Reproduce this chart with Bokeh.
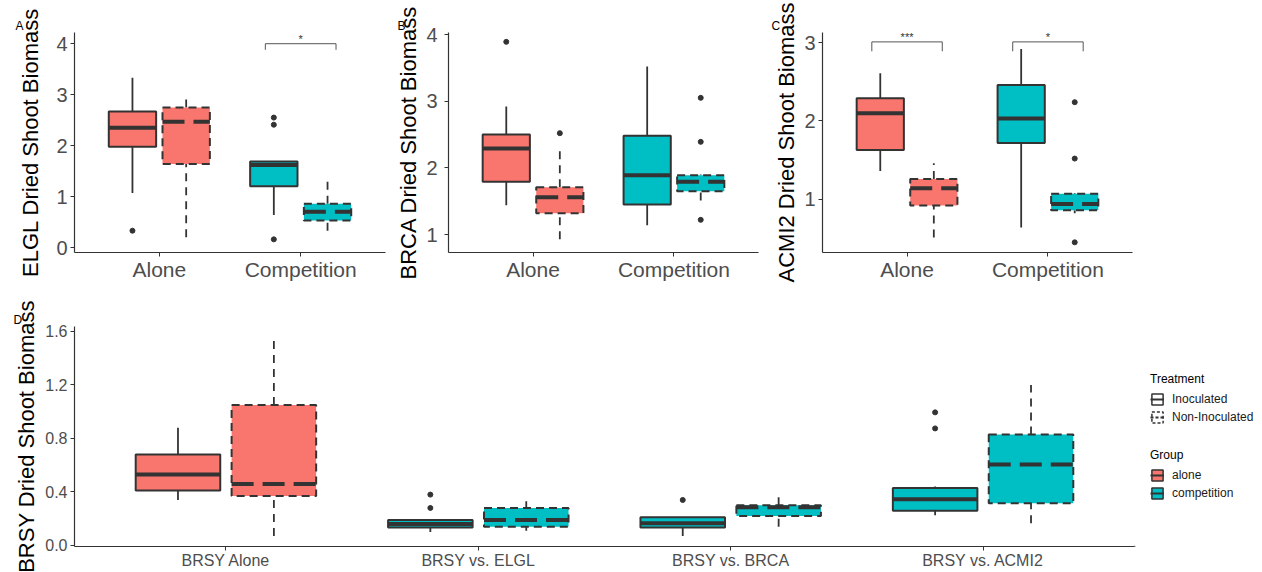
from bokeh.plotting import figure
from bokeh.models import (FactorRange, Range1d, ColumnDataSource, FixedTicker,
                          PrintfTickFormatter, Legend, LegendItem)
from bokeh.transform import dodge
from bokeh.layouts import row, column
from bokeh.embed import file_html
from bokeh.resources import INLINE
from bokeh.core.properties import value

FONT = "Liberation Sans"
ALONE = "#F8766D"
COMP = "#00BFC4"
LINE = "#333333"

# ---------------- Panel A : ELGL ----------------
a_cats = ["Alone", "Competition"]
a_colors = [ALONE, COMP]
a_inoc_low = [1.07, 0.64]
a_inoc_q1 = [1.98, 1.20]
a_inoc_med = [2.35, 1.62]
a_inoc_q3 = [2.67, 1.69]
a_inoc_high = [3.33, 1.69]
a_inoc_out = [[0.33], [2.55, 2.41, 0.16]]
a_non_low = [0.20, 0.33]
a_non_q1 = [1.64, 0.53]
a_non_med = [2.47, 0.70]
a_non_q3 = [2.75, 0.86]
a_non_high = [2.92, 1.31]
a_non_out = [[], []]
a_sig_cat = ["Competition"]
a_sig_y = [4.0]
a_sig_label = ["*"]

# ---------------- Panel B : BRCA ----------------
b_cats = ["Alone", "Competition"]
b_colors = [ALONE, COMP]
b_inoc_low = [1.44, 1.14]
b_inoc_q1 = [1.79, 1.45]
b_inoc_med = [2.29, 1.89]
b_inoc_q3 = [2.50, 2.48]
b_inoc_high = [2.92, 3.52]
b_inoc_out = [[3.89], []]
b_non_low = [0.93, 1.51]
b_non_q1 = [1.32, 1.65]
b_non_med = [1.56, 1.79]
b_non_q3 = [1.71, 1.89]
b_non_high = [2.26, 1.90]
b_non_out = [[2.52], [3.05, 2.39, 1.22]]

# ---------------- Panel C : ACMI2 ----------------
c_cats = ["Alone", "Competition"]
c_colors = [ALONE, COMP]
c_inoc_low = [1.36, 0.64]
c_inoc_q1 = [1.63, 1.72]
c_inoc_med = [2.10, 2.03]
c_inoc_q3 = [2.29, 2.46]
c_inoc_high = [2.61, 2.92]
c_inoc_out = [[], []]
c_non_low = [0.51, 0.82]
c_non_q1 = [0.92, 0.86]
c_non_med = [1.14, 0.94]
c_non_q3 = [1.26, 1.07]
c_non_high = [1.46, 1.08]
c_non_out = [[], [2.24, 1.52, 0.45]]
c_sig_cat = ["Alone", "Competition"]
c_sig_y = [3.01, 3.01]
c_sig_label = ["***", "*"]

# ---------------- Panel D : BRSY ----------------
d_cats = ["BRSY Alone", "BRSY vs. ELGL", "BRSY vs. BRCA", "BRSY vs. ACMI2"]
d_colors = [ALONE, COMP, COMP, COMP]
d_inoc_low = [0.34, 0.10, 0.07, 0.225]
d_inoc_q1 = [0.41, 0.135, 0.135, 0.26]
d_inoc_med = [0.53, 0.16, 0.165, 0.345]
d_inoc_q3 = [0.68, 0.19, 0.21, 0.43]
d_inoc_high = [0.88, 0.19, 0.21, 0.44]
d_inoc_out = [[], [0.38, 0.28], [0.34], [0.995, 0.875]]
d_non_low = [0.07, 0.11, 0.14, 0.165]
d_non_q1 = [0.37, 0.14, 0.22, 0.315]
d_non_med = [0.46, 0.19, 0.285, 0.605]
d_non_q3 = [1.05, 0.28, 0.30, 0.83]
d_non_high = [1.56, 0.33, 0.38, 1.20]
d_non_out = [[], [], [], []]

treat_labels = ["Inoculated", "Non-Inoculated"]
group_labels = ["alone", "competition"]

BOX_W = 0.335
OFF = 0.19
DASH_BOX = "8 5"
DASH_WHISK = "8 6"
DASH_MED = "22 9"


def add_boxes(p, cats, colors, low, q1, med, q3, high, outs, offset, dashed):
    src = ColumnDataSource(dict(x=cats, low=low, q1=q1, med=med, q3=q3,
                                high=high, color=colors))
    xd = dodge("x", offset, range=p.x_range)
    wd = DASH_WHISK if dashed else "solid"
    bd = DASH_BOX if dashed else "solid"
    md = DASH_MED if dashed else "solid"
    p.segment(x0=xd, y0="q3", x1=xd, y1="high", source=src,
              line_color=LINE, line_width=1.8, line_dash=wd)
    p.segment(x0=xd, y0="low", x1=xd, y1="q1", source=src,
              line_color=LINE, line_width=1.8, line_dash=wd)
    p.vbar(x=xd, width=BOX_W, bottom="q1", top="q3", source=src,
           fill_color="color", line_color=LINE, line_width=2, line_dash=bd)
    p.segment(x0=dodge("x", offset - BOX_W / 2, range=p.x_range), y0="med",
              x1=dodge("x", offset + BOX_W / 2, range=p.x_range), y1="med",
              source=src, line_color=LINE, line_width=4, line_dash=md)
    ox = [c for c, o in zip(cats, outs) for _ in o]
    oy = [v for o in outs for v in o]
    if ox:
        osrc = ColumnDataSource(dict(x=ox, y=oy))
        p.scatter(x=dodge("x", offset, range=p.x_range), y="y", source=osrc,
                  size=5, fill_color=LINE, line_color=LINE)


def add_sig(p, cats, ys, labels, tip):
    src = ColumnDataSource(dict(x=cats, y=ys, yt=[y - tip for y in ys], label=labels))
    xl = dodge("x", -0.25, range=p.x_range)
    xr = dodge("x", 0.25, range=p.x_range)
    p.segment(x0=xl, y0="y", x1=xr, y1="y", source=src, line_color="#555555", line_width=1)
    p.segment(x0=xl, y0="y", x1=xl, y1="yt", source=src, line_color="#555555", line_width=1)
    p.segment(x0=xr, y0="y", x1=xr, y1="yt", source=src, line_color="#555555", line_width=1)
    p.text(x=dodge("x", 0, range=p.x_range), y="y", text="label", source=src,
           text_align="center", text_baseline="bottom", text_font=value(FONT),
           text_font_size="11px", text_color="#333333", y_offset=1)


def make_fig(cats, ylo, yhi, width, height, bl, br, bt, bb, letter, letter_off):
    p = figure(x_range=FactorRange(*cats, range_padding=0.1, range_padding_units="absolute"),
               y_range=Range1d(ylo, yhi), width=width, height=height,
               min_border_left=bl, min_border_right=br, min_border_top=bt,
               min_border_bottom=bb, output_backend="svg", toolbar_location=None,
               tools="", background_fill_color="white", border_fill_color="white",
               title=letter)
    p.title.align = "left"
    p.title.offset = letter_off
    p.title.text_font = FONT
    p.title.text_font_size = "12px"
    p.title.text_font_style = "normal"
    p.title.text_color = "black"
    p.title.standoff = 0
    p.title.vertical_align = "bottom"
    p.xgrid.visible = False
    p.ygrid.visible = False
    p.outline_line_color = None
    for ax in (p.xaxis[0], p.yaxis[0]):
        ax.axis_line_color = "#333333"
        ax.axis_line_width = 1.2
        ax.major_tick_line_color = "#333333"
        ax.major_tick_in = 0
        ax.major_tick_out = 4
        ax.minor_tick_line_color = None
        ax.major_label_text_color = "#4D4D4D"
        ax.major_label_text_font = FONT
        ax.axis_label_text_font = FONT
        ax.axis_label_text_font_style = "normal"
        ax.axis_label_text_color = "black"
    return p


def style_axes(p, ylabel, ticks, ytick_size, xtick_size, label_size, label_standoff,
               ytick_standoff=3, fmt=None):
    p.yaxis.ticker = FixedTicker(ticks=ticks)
    if fmt:
        p.yaxis.formatter = PrintfTickFormatter(format=fmt)
    p.yaxis.axis_label = ylabel
    p.yaxis.axis_label_text_font_size = label_size
    p.yaxis.axis_label_standoff = label_standoff
    p.yaxis.major_label_text_font_size = ytick_size
    p.yaxis.major_label_standoff = ytick_standoff
    p.xaxis.major_label_text_font_size = xtick_size
    p.xaxis.major_label_standoff = 1


# Panel A
pA = make_fig(a_cats, -0.098, 4.22, 390, 300, 74, 5, 32, 48, "A", -59)
add_boxes(pA, a_cats, a_colors, a_inoc_low, a_inoc_q1, a_inoc_med, a_inoc_q3, a_inoc_high, a_inoc_out, -OFF, False)
add_boxes(pA, a_cats, a_colors, a_non_low, a_non_q1, a_non_med, a_non_q3, a_non_high, a_non_out, OFF, True)
add_sig(pA, a_sig_cat, a_sig_y, a_sig_label, 0.12)
style_axes(pA, "ELGL Dried Shoot Biomass", [0, 1, 2, 3, 4], "20px", "21px", "22px", 10)

# Panel B
pB = make_fig(b_cats, 0.73, 4.03, 378, 300, 58, 10, 32, 48, "B", -51)
add_boxes(pB, b_cats, b_colors, b_inoc_low, b_inoc_q1, b_inoc_med, b_inoc_q3, b_inoc_high, b_inoc_out, -OFF, False)
add_boxes(pB, b_cats, b_colors, b_non_low, b_non_q1, b_non_med, b_non_q3, b_non_high, b_non_out, OFF, True)
style_axes(pB, "BRCA Dried Shoot Biomass", [1, 2, 3, 4], "20px", "21px", "22px", 2, ytick_standoff=7)

# Panel C
pC = make_fig(c_cats, 0.32, 3.13, 494, 300, 54, 130, 32, 48, "C", -51)
add_boxes(pC, c_cats, c_colors, c_inoc_low, c_inoc_q1, c_inoc_med, c_inoc_q3, c_inoc_high, c_inoc_out, -OFF, False)
add_boxes(pC, c_cats, c_colors, c_non_low, c_non_q1, c_non_med, c_non_q3, c_non_high, c_non_out, OFF, True)
add_sig(pC, c_sig_cat, c_sig_y, c_sig_label, 0.12)
style_axes(pC, "ACMI2 Dried Shoot Biomass", [1, 2, 3], "20px", "21px", "22px", 2)

# Panel D
pD = make_fig(d_cats, -0.008, 1.637, 1134, 272, 74, 0, 26, 26, "D", -61)
add_boxes(pD, d_cats, d_colors, d_inoc_low, d_inoc_q1, d_inoc_med, d_inoc_q3, d_inoc_high, d_inoc_out, -OFF, False)
add_boxes(pD, d_cats, d_colors, d_non_low, d_non_q1, d_non_med, d_non_q3, d_non_high, d_non_out, OFF, True)
style_axes(pD, "BRSY Dried Shoot Biomass", [0, 0.4, 0.8, 1.2, 1.6], "16px", "16px", "22px", 3, fmt="%.1f")

# Legend panel (key renderers sit outside the visible range; only their legend keys show)
pL = figure(width=128, height=272, x_range=Range1d(0, 1), y_range=Range1d(0, 1),
            min_border=0, x_axis_location=None, y_axis_location=None,
            output_backend="svg", toolbar_location=None, tools="",
            background_fill_color="white", border_fill_color="white")
pL.outline_line_color = None
pL.grid.visible = False


def hidden_src():
    return ColumnDataSource(dict(x=[-5.0], top=[-5.0], bottom=[-6.0], y=[-5.0]))


def key(fill, dash):
    box = pL.vbar(x="x", top="top", bottom="bottom", width=0.3, source=hidden_src(),
                  fill_color=fill, line_color=LINE, line_width=1.5, line_dash=dash)
    med = pL.segment(x0="x", y0="y", x1="x", y1="y", source=hidden_src(),
                     line_color=LINE, line_width=2, line_dash=dash)
    return [box, med]


def make_legend(title, items, loc):
    lg = Legend(items=items, title=title, location=loc)
    lg.title_text_font = FONT
    lg.title_text_font_size = "12px"
    lg.title_text_font_style = "normal"
    lg.title_text_color = "black"
    lg.title_standoff = 6
    lg.label_text_font = FONT
    lg.label_text_font_size = "12px"
    lg.label_text_color = "#1A1A1A"
    lg.glyph_width = 14
    lg.glyph_height = 14
    lg.label_height = 14
    lg.label_standoff = 8
    lg.spacing = 4
    lg.padding = 0
    lg.margin = 0
    lg.border_line_color = None
    lg.background_fill_alpha = 0
    return lg


leg_t = make_legend("Treatment",
                    [LegendItem(label=treat_labels[0], renderers=key("white", "solid")),
                     LegendItem(label=treat_labels[1], renderers=key("white", "3 2"))],
                    (16, 122))
leg_g = make_legend("Group",
                    [LegendItem(label=group_labels[0], renderers=key(ALONE, "solid")),
                     LegendItem(label=group_labels[1], renderers=key(COMP, "solid"))],
                    (16, 46))
pL.add_layout(leg_t)
pL.add_layout(leg_g)

layout = column(row(pA, pB, pC), row(pD, pL))
open("out.html", "w").write(file_html(layout, INLINE))
